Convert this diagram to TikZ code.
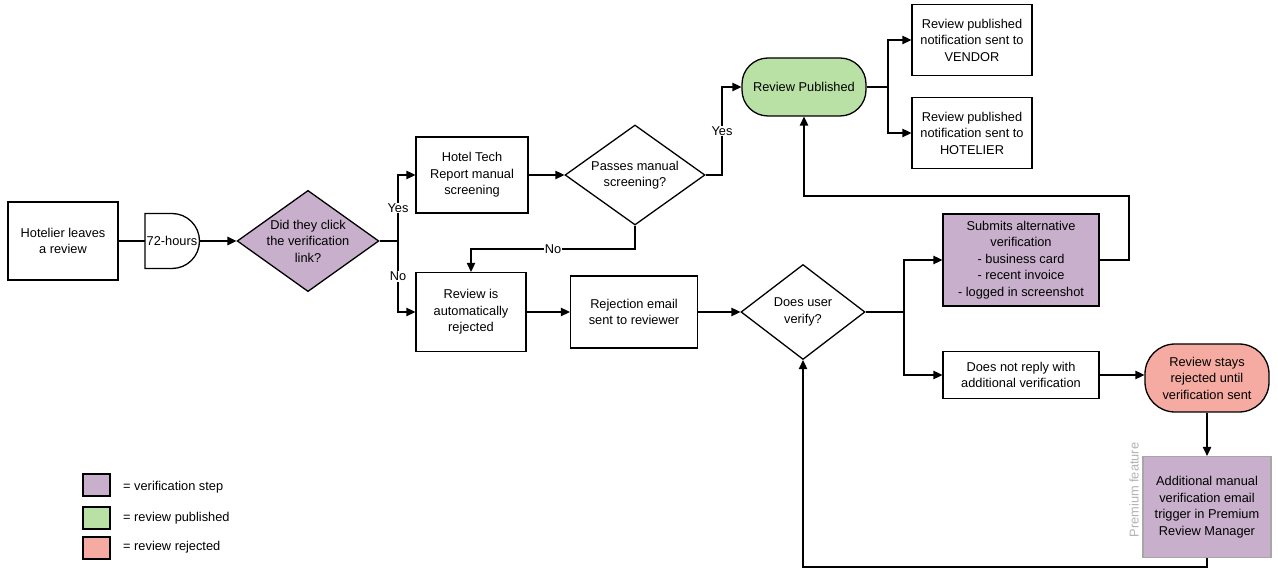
\documentclass[tikz,border=0pt]{standalone}
\usepackage{fontspec}
\setmainfont{Liberation Sans}
\usetikzlibrary{shapes.geometric,arrows.meta}
\definecolor{vpurp}{HTML}{C8B0CC}
\definecolor{vgreen}{HTML}{B9E0A5}
\definecolor{vpink}{HTML}{F5ABA1}
\begin{document}
\begin{tikzpicture}[x=1pt,y=-1pt,
  every node/.style={font=\fontsize{12.8}{16.5}\selectfont,align=center,inner sep=1pt},
  box/.style={draw,line width=1.3pt,minimum width=#1},
  dia/.style={draw,line width=1.3pt,diamond,aspect=1.4,inner sep=0pt},
  arr/.style={draw,line width=1.3pt,-{Triangle[length=9pt,width=8.5pt]}},
  ln/.style={draw,line width=1.3pt},
  lbl/.style={fill=white,inner sep=1pt}]
\useasboundingbox (0,0) rectangle (1278,585);
\node[box=110,minimum height=78] (hot) at (63,241) {Hotelier leaves\\a review};
\draw[line width=1.3pt,fill=white] (145,213.5) -- (172,213.5) arc (-90:90:27.5) -- (145,268.5) -- cycle;
\node (dly) at (172,241) {72-hours};
\coordinate (dlyR) at (200,241);
\coordinate (dlyL) at (145,241);
\node[dia,fill=vpurp,minimum width=140,minimum height=100] (d1) at (308,241) {Did they click\\the verification\\link?};
\node[box=112,minimum height=76] (htr) at (472,175) {Hotel Tech\\Report manual\\screening};
\node[box=110,minimum height=79] (rej) at (471,312) {Review is\\automatically\\rejected};
\node[dia,minimum width=140,minimum height=100] (d2) at (635,175) {Passes manual\\screening?};
\node[box=127,minimum height=72] (em) at (634,312) {Rejection email\\sent to reviewer};
\node[dia,minimum width=124,minimum height=95] (d3) at (803,312) {Does user\\verify?};
\node[draw,line width=1.3pt,fill=vgreen,rounded corners=26,minimum width=124,minimum height=58] (pub) at (804,87) {Review Published};
\node[box=120,minimum height=71] (ven) at (972,40) {Review published\\notification sent to\\VENDOR};
\node[box=120,minimum height=71] (hto) at (972,133) {Review published\\notification sent to\\HOTELIER};
\node[box=156,minimum height=92,fill=vpurp] (sub) at (1021,260) {Submits alternative\\verification\\- business card\\- recent invoice\\- logged in screenshot};
\node[box=156,minimum height=47] (dnr) at (1021,375) {Does not reply with\\additional verification};
\node[draw,line width=1.3pt,fill=vpink,rounded corners=30,minimum width=124,minimum height=68] (stay) at (1207,378) {Review stays\\rejected until\\verification sent};
\node[draw=gray!70,line width=1.3pt,fill=vpurp,minimum width=128,minimum height=101] (add) at (1207,507) {Additional manual\\verification email\\trigger in Premium\\Review Manager};
\node[rotate=90,text=gray!60] (pf) at (1134,490) {Premium feature};
% connectors
\draw[ln] (hot.east) -- (dlyL);
\draw[arr] (dlyR) -- (d1.west);
\draw[arr] (d1.east) -- (398,241) |- (htr.west) node[pos=0.25,lbl] {Yes};
\draw[arr] (d1.east) -- (398,241) |- (rej.west) node[pos=0.25,lbl] {No};
\draw[arr] (htr.east) -- (d2.west);
\draw[arr] (d2.south) -- (635,249) -- node[lbl] {No} (471,249) -- (rej.north);
\draw[arr] (d2.east) -- (722,175) |- (pub.west) node[pos=0.25,lbl] {Yes};
\draw[arr] (pub.east) -- (888,87) |- (ven.west);
\draw[arr] (pub.east) -- (888,87) |- (hto.west);
\draw[arr] (rej.east) -- (em.west);
\draw[arr] (em.east) -- (d3.west);
\draw[arr] (d3.east) -- (904,312) |- (sub.west);
\draw[arr] (d3.east) -- (904,312) |- (dnr.west);
\draw[arr] (sub.east) -- (1129,260) -- (1129,196) -- (804,196) -- (pub.south);
\draw[arr] (dnr.east) -- (dnr.east -| stay.west);
\draw[arr] (stay.south) -- (add.north);
\draw[arr] (add.south) -- (1207,567) -- (803,567) -- (d3.south);
% legend
\node[box=27,minimum height=22,fill=vpurp,inner sep=0pt] (l1) at (96.5,485) {};
\node[box=27,minimum height=22,fill=vgreen,inner sep=0pt] (l2) at (96.5,518) {};
\node[box=27,minimum height=22,fill=vpink,inner sep=0pt] (l3) at (96.5,548) {};
\node[anchor=west] (t1) at (122,487) {= verification step};
\node[anchor=west] (t2) at (122,518) {= review published};
\node[anchor=west] (t3) at (122,547) {= review rejected};
\end{tikzpicture}
\end{document}
